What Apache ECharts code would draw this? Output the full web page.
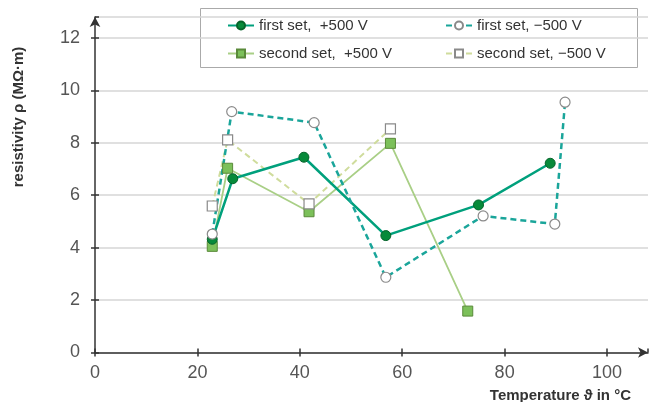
<!DOCTYPE html>
<html>
<head>
<meta charset="utf-8">
<script src="https://cdn.jsdelivr.net/npm/echarts@6/dist/echarts.min.js"></script>
<style>
  html, body { margin: 0; padding: 0; background: #fff; }
  #chart { width: 655px; height: 402px; }
</style>
</head>
<body>
<div id="chart"></div>
<script>
// temperature (°C) / resistivity (MΩ·m) pairs
const firstPlusT = [22.9, 26.9, 40.8, 56.8, 74.9, 88.9]
const firstPlusR = [4.32, 6.63, 7.45, 4.46, 5.63, 7.22]
const firstMinusT = [22.9, 26.7, 42.8, 56.8, 75.8, 89.8, 91.8]
const firstMinusR = [4.52, 9.19, 8.77, 2.87, 5.21, 4.90, 9.55]
const secondPlusT = [22.9, 25.9, 41.8, 57.7, 72.8]
const secondPlusR = [4.05, 7.03, 5.37, 7.98, 1.58]
const secondMinusT = [22.9, 25.9, 41.8, 57.7]
const secondMinusR = [5.59, 8.11, 5.67, 8.53]

const names = ['first set,  +500 V', 'first set, \u2212500 V', 'second set,  +500 V', 'second set, \u2212500 V']

const pairs = (xs, ys) => xs.map((x, i) => [x, ys[i]])

const chart = echarts.init(document.getElementById('chart'))

const axisLine = { lineStyle: { color: '#333', width: 1.5 } }
const tickStyle = { color: '#333', width: 1.5 }
const font = 'Liberation Sans, Arial, sans-serif'
const legendText = { fontSize: 15, color: '#333', fontFamily: font }

chart.setOption({
  animation: false,
  grid: { left: 95, right: 7, top: 17, bottom: 49.5 },
  legend: [
    {
      orient: 'vertical', left: 222, top: 13, itemGap: 13,
      itemWidth: 26, itemHeight: 10, textStyle: legendText,
      data: [names[0], names[2]]
    },
    {
      orient: 'vertical', left: 440, top: 13, itemGap: 13,
      itemWidth: 26, itemHeight: 10, textStyle: legendText,
      data: [names[1], names[3]]
    }
  ],
  graphic: [
    {
      type: 'rect', z: -1, left: 200, top: 8,
      shape: { width: 437, height: 59 },
      style: { fill: '#fff', stroke: '#aaa', lineWidth: 1 }
    },
    {
      type: 'text', x: 19, y: 117, rotation: Math.PI / 2,
      style: {
        text: 'resistivity \u03c1 (M\u03a9\u00b7m)', fill: '#333',
        font: 'bold 15px ' + font, align: 'center', verticalAlign: 'middle'
      }
    },
    {
      type: 'text', x: 631, y: 396,
      style: {
        text: 'Temperature \u03d1 in \u00b0C', fill: '#333',
        font: 'bold 15px ' + font, align: 'right', verticalAlign: 'middle'
      }
    }
  ],
  xAxis: [
    {
      type: 'value', min: 0, max: 108, interval: 20,
      axisLine: { ...axisLine, symbol: ['none', 'arrow'], symbolSize: [8, 10] },
      axisTick: { show: true, length: 4, lineStyle: tickStyle },
      axisLabel: { fontSize: 18, color: '#555', margin: 12, fontFamily: font, showMaxLabel: false },
      splitLine: { show: false }
    },
    {
      type: 'value', min: 0, max: 108, interval: 20, position: 'bottom',
      axisLine: { show: false },
      axisTick: { show: true, inside: true, length: 4, lineStyle: tickStyle },
      axisLabel: { show: false },
      splitLine: { show: false }
    }
  ],
  yAxis: [
    {
      type: 'value', min: 0, max: 12.8, interval: 2,
      axisLine: { show: true, ...axisLine, symbol: ['none', 'arrow'], symbolSize: [8, 10] },
      axisTick: { show: true, length: 4, lineStyle: tickStyle },
      axisLabel: { fontSize: 18, color: '#555', margin: 15, fontFamily: font, showMaxLabel: false },
      splitLine: { lineStyle: { color: '#d6d6d6', width: 1.5 } }
    },
    {
      type: 'value', min: 0, max: 12.8, interval: 2, position: 'left',
      axisLine: { show: false },
      axisTick: { show: true, inside: true, length: 4, lineStyle: tickStyle },
      axisLabel: { show: false },
      splitLine: { show: false }
    }
  ],
  series: [
    {
      name: names[2], type: 'line', data: pairs(secondPlusT, secondPlusR),
      symbol: 'rect', symbolSize: 10,
      lineStyle: { color: '#a9cf86', width: 1.8 },
      itemStyle: { color: '#7cc05a', borderColor: '#5a8a3a', borderWidth: 1 }
    },
    {
      name: names[3], type: 'line', data: pairs(secondMinusT, secondMinusR),
      symbol: 'rect', symbolSize: 10,
      lineStyle: { color: '#cfdc9c', width: 2, type: [6, 4] },
      itemStyle: { color: '#fff', borderColor: '#8a8a8a', borderWidth: 1.2 }
    },
    {
      name: names[0], type: 'line', data: pairs(firstPlusT, firstPlusR),
      symbol: 'circle', symbolSize: 10,
      lineStyle: { color: '#00a07c', width: 2.5 },
      itemStyle: { color: '#078a3a', borderColor: '#05632a', borderWidth: 1 }
    },
    {
      name: names[1], type: 'line', data: pairs(firstMinusT, firstMinusR),
      symbol: 'circle', symbolSize: 10,
      lineStyle: { color: '#1aa59a', width: 2.5, type: [6, 4] },
      itemStyle: { color: '#fff', borderColor: '#8a8a8a', borderWidth: 1.2 }
    }
  ]
})
</script>
</body>
</html>
